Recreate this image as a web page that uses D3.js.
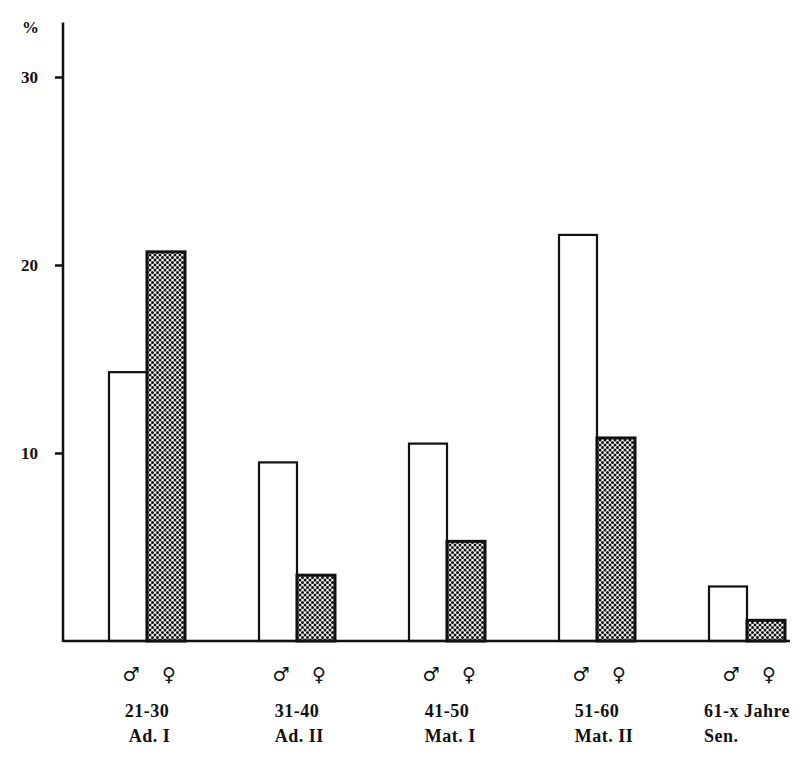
<!DOCTYPE html>
<html>
<head>
<meta charset="utf-8">
<script src="https://cdn.jsdelivr.net/npm/d3@7"></script>
<style>
  html, body { margin: 0; padding: 0; background: #fff; }
  svg { display: block; }
  text { font-family: "Liberation Serif", "DejaVu Serif", serif; font-weight: bold; fill: #111; }
  text.sym { font-family: "DejaVu Sans", sans-serif; }
</style>
</head>
<body>
<svg id="chart" width="800" height="758"></svg>
<script>
const groups = ["21-30", "31-40", "41-50", "51-60", "61-x Jahre"];
const groupSub = ["Ad. I", "Ad. II", "Mat. I", "Mat. II", "Sen."];
const sexes = ["♂", "♀"];
const male = [14.3, 9.5, 10.5, 21.6, 2.9];
const female = [20.7, 3.5, 5.3, 10.8, 1.1];
const yTicks = [10, 20, 30];
const yUnit = "%";

const svg = d3.select("#chart");

// pattern for female bars
const defs = svg.append("defs");
const pat = defs.append("pattern")
  .attr("id", "dots").attr("patternUnits", "userSpaceOnUse")
  .attr("width", 5).attr("height", 5);
pat.append("rect").attr("width", 5).attr("height", 5).attr("fill", "#fff");
[[0,0],[5,0],[0,5],[5,5],[2.5,2.5]].forEach(([cx, cy]) =>
  pat.append("circle").attr("cx", cx).attr("cy", cy).attr("r", 1.5).attr("fill", "#111"));

const axisX = 63;
const y = d3.scaleLinear().domain([0, 30]).range([641, 77]);
const x = d3.scalePoint().domain(groups).range([147, 747]);
const xs = d3.scaleBand().domain(sexes).range([-38, 38]).padding(0);

const data = [];
groups.forEach((g, i) => {
  data.push({ g, s: sexes[0], v: male[i] });
  data.push({ g, s: sexes[1], v: female[i] });
});

// bars
svg.append("g").selectAll("rect").data(data).join("rect")
  .attr("x", d => x(d.g) + xs(d.s))
  .attr("y", d => y(d.v))
  .attr("width", xs.bandwidth())
  .attr("height", d => y(0) - y(d.v))
  .attr("fill", d => d.s === sexes[0] ? "#fff" : "url(#dots)")
  .attr("stroke", "#111")
  .attr("stroke-width", d => d.s === sexes[0] ? 2.2 : 3);

// y axis
const yAxis = d3.axisLeft(y).tickValues(yTicks).tickSize(8).tickPadding(17).tickFormat(d3.format("d"));
const ga = svg.append("g").attr("transform", `translate(${axisX},0)`).call(yAxis);
ga.select(".domain").remove();
ga.selectAll(".tick line").attr("stroke", "#111").attr("stroke-width", 2.5);
ga.selectAll(".tick text").style("font-size", "17px").style("fill", "#111");

svg.append("line")
  .attr("x1", axisX).attr("x2", axisX)
  .attr("y1", y(32.9)).attr("y2", y(0) + 1)
  .attr("stroke", "#111").attr("stroke-width", 2.5);

// baseline
svg.append("line")
  .attr("x1", axisX).attr("x2", 790)
  .attr("y1", y(0)).attr("y2", y(0))
  .attr("stroke", "#111").attr("stroke-width", 2.5);

// unit
svg.append("text").attr("x", 22).attr("y", 33).style("font-size", "17px").text(yUnit);

// sex symbols
svg.append("g").selectAll("text").data(data).join("text")
  .attr("class", "sym")
  .attr("x", d => x(d.g) + xs(d.s) + xs.bandwidth() / 2 + 3)
  .attr("y", 681)
  .attr("text-anchor", "middle")
  .style("font-size", "19px")
  .text(d => d.s);

// group labels
groups.forEach((g, i) => {
  const t1 = svg.append("text").style("font-size", "18px").style("letter-spacing", "0.5px").attr("y", 717).text(g);
  const w = t1.node().getComputedTextLength();
  const x0 = x(g) - w / 2;
  t1.attr("x", x0);
  svg.append("text").style("font-size", "18px").style("letter-spacing", "0.5px")
    .attr("x", x0 + (i < 1 ? 4 : 0)).attr("y", 742).text(groupSub[i]);
});
</script>
</body>
</html>
